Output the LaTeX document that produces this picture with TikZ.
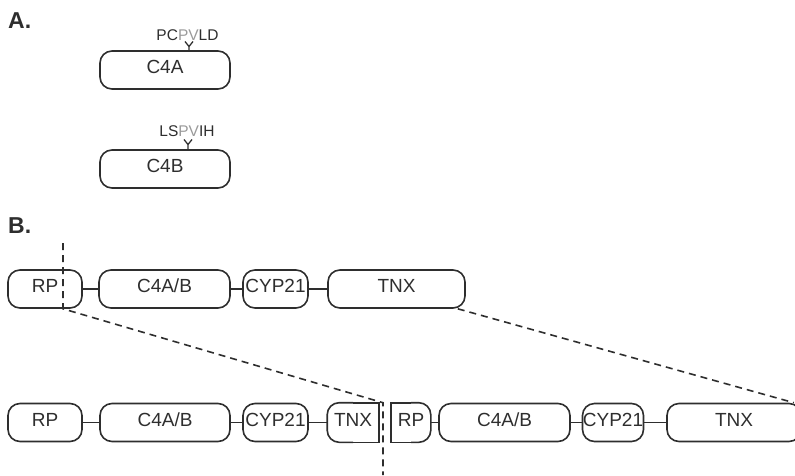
\documentclass[tikz,border=0pt]{standalone}
\usepackage{fontspec}
\setmainfont{Liberation Sans}
\usepackage{xcolor}
\usepackage{tikz}
\usetikzlibrary{positioning}
\definecolor{darkline}{HTML}{2E2E2E}
\definecolor{pvgray}{HTML}{9A9A9A}

\begin{document}
\begin{tikzpicture}[x=1pt, y=-1pt,
        gene/.style={draw=darkline, line width=1.6pt, rounded corners=12pt, minimum height=38pt, inner sep=0pt,
            text=darkline, font=\fontsize{19}{22}\selectfont, text height=0.72em, text depth=0pt},
        halfgene/.style={gene, draw=none},
        link/.style={draw=darkline, line width=1.6pt},
        cutline/.style={draw=darkline, line width=1.6pt, dash pattern=on 7pt off 5pt},
        site/.style={text=darkline, font=\fontsize{15.5}{18}\selectfont, inner sep=0pt},
        panel/.style={text=darkline, font=\fontsize{23}{26}\selectfont\bfseries, inner sep=0pt, anchor=base west}]
        \useasboundingbox (0,0) rectangle (795,475);

        % A.
        \node[panel] (la) at (8,28.5) {A.};
        \node[gene, minimum width=130pt] (c4a) at (165,70) {C4A};
        \node[gene, minimum width=130pt] (c4b) at (165,169) {C4B};
        \node[site] (seqa) at (187.5,35) {PC\textcolor{pvgray}{PV}LD};
        \node[site] (seqb) at (187,131) {LS\textcolor{pvgray}{PV}IH};
        \coordinate (forka) at (189,46.5);
        \coordinate (forkb) at (188,144.5);
        \draw[link, line width=1.3pt] (forka) -- (forka |- c4a.north) (forka) -- ++(-4,-5) (forka) -- ++(4,-5);
        \draw[link, line width=1.3pt] (forkb) -- (forkb |- c4b.north) (forkb) -- ++(-4,-5) (forkb) -- ++(4,-5);

        % B. single module
        \node[panel] (lb) at (8,233.5) {B.};
        \node[gene, minimum width=74pt] (rpa) at (45,289) {RP};
        \node[gene, minimum width=131pt] (c4aba) at (164.5,289) {C4A/B};
        \node[gene, minimum width=65pt] (cypa) at (275.5,289) {CYP21};
        \node[gene, minimum width=137pt] (tnxa) at (396.5,289) {TNX};
        \draw[link] (rpa) -- (c4aba) (c4aba) -- (cypa) (cypa) -- (tnxa);

        % B. duplicated module
        \node[gene, minimum width=74pt] (rpb) at (45,422.5) {RP};
        \node[gene, minimum width=130pt] (c4abb) at (165,422.5) {C4A/B};
        \node[gene, minimum width=65pt] (cypb) at (275.5,422.5) {CYP21};
        \node[halfgene, minimum width=50pt] (tnxb) at (353,422.5) {TNX};
        \node[halfgene, minimum width=38pt] (rpc) at (411,422.5) {RP};
        \node[gene, minimum width=131pt] (c4abc) at (504.5,422.5) {C4A/B};
        \node[gene, minimum width=61pt] (cypc) at (613,422.5) {CYP21};
        \node[gene, minimum width=134pt] (tnxc) at (734,422.5) {TNX};
        \draw[link, rounded corners=12pt] (tnxb.north) -- (tnxb.north west) -- (tnxb.south west) -- (tnxb.south);
        \draw[link] (tnxb.north) -- (tnxb.north east) -- (tnxb.south east) -- (tnxb.south);
        \draw[link] (rpc.north) -- (rpc.north west) -- (rpc.south west) -- (rpc.south);
        \draw[link, rounded corners=12pt] (rpc.north) -- (rpc.north east) -- (rpc.south east) -- (rpc.south);
        \draw[link] (rpb) -- (c4abb) (c4abb) -- (cypb) (cypb) -- (tnxb);
        \draw[link] (rpc) -- (c4abc) (c4abc) -- (cypc) (cypc) -- (tnxc);

        % crossover
        \coordinate (cuttop) at (63,243);
        \coordinate (cutbot) at (383,475);
        \draw[cutline] (cuttop) -- (cuttop |- rpa.south) -- (cutbot |- tnxb.north) -- (cutbot);
        \draw[cutline] ([xshift=-8pt]tnxa.south east) -- ([xshift=-8pt]tnxc.north east);
    \end{tikzpicture}
\end{document}
